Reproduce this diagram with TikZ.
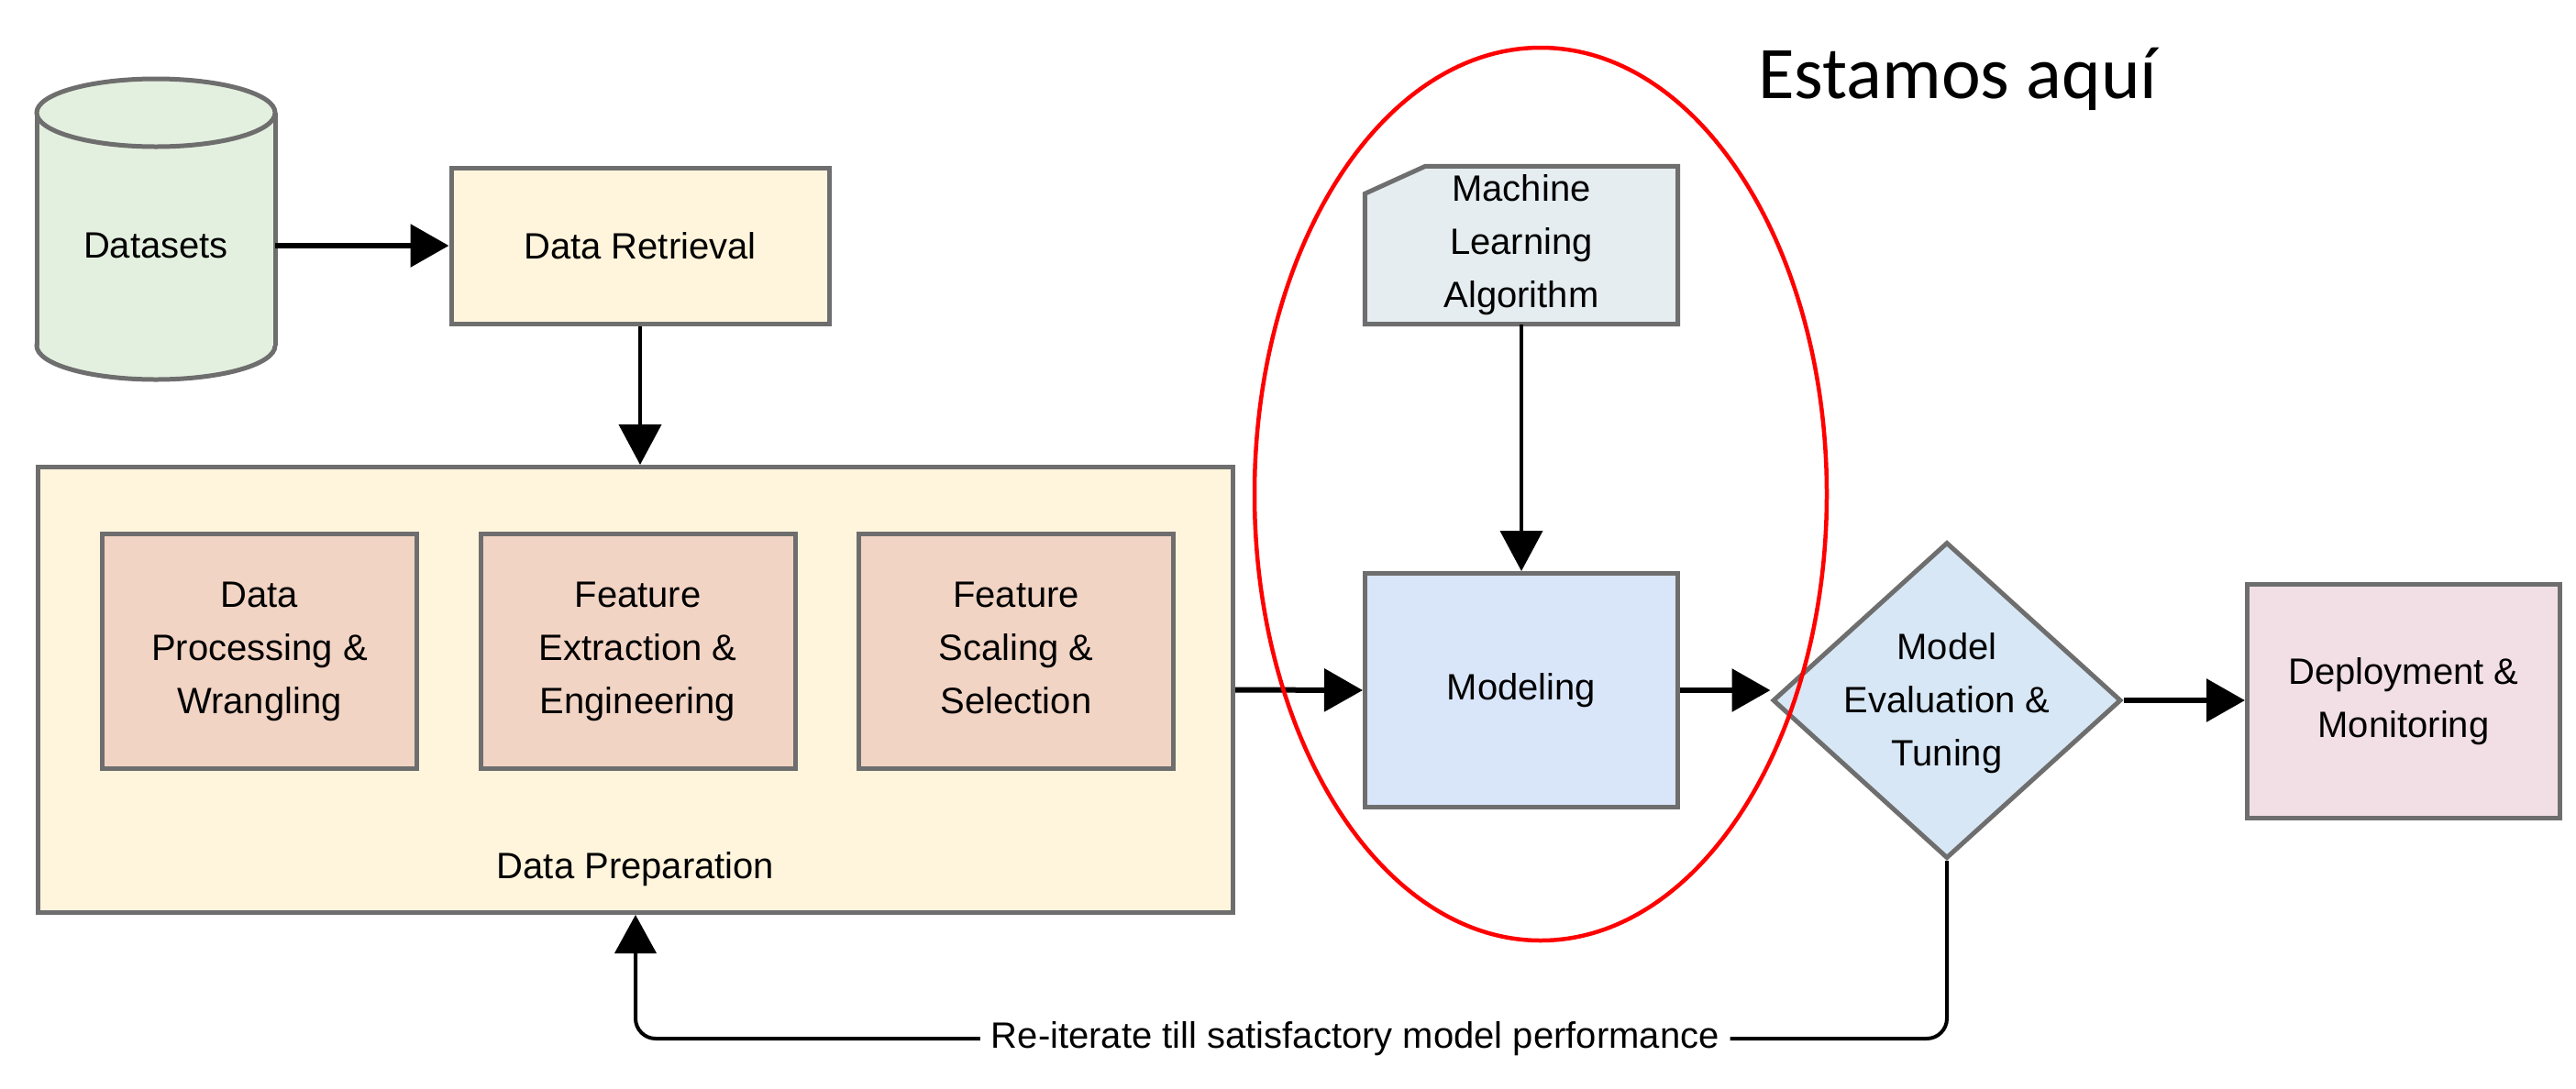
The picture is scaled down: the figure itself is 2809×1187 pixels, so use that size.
\documentclass[tikz,border=0pt]{standalone}
\usepackage{fontspec}
\setmainfont{Liberation Sans}
\newfontfamily\calibfont{Carlito}
\usetikzlibrary{arrows.meta,shapes.geometric,backgrounds}
\definecolor{bord}{HTML}{6E6E6E}
\definecolor{cylf}{HTML}{E4F0DF}
\definecolor{cream}{HTML}{FFF5DC}
\definecolor{peach}{HTML}{F2D4C4}
\definecolor{mlf}{HTML}{E5EDF0}
\definecolor{modf}{HTML}{D9E5F8}
\definecolor{diaf}{HTML}{D7E7F5}
\definecolor{depf}{HTML}{F2DFE6}
\begin{document}
\begin{tikzpicture}[x=1pt,y=-1pt,
  txt/.style={font=\fontsize{40}{58}\selectfont, align=center, text=black},
  box/.style={txt, draw=bord, line width=5pt, inner sep=0pt},
  bigarr/.style={line width=6pt, -{Triangle[length=42pt,width=46pt]}},
  thinarr/.style={line width=4pt, -{Triangle[length=44pt,width=46pt]}},
  fb/.style={line width=4pt, rounded corners=22pt, -{Triangle[length=42pt,width=45pt]}},
  cyl/.style={draw=bord, line width=5pt, fill=cylf}
]
\useasboundingbox (0,0) rectangle (2809,1187);
\begin{scope}[on background layer]
\fill[white] (0,0) rectangle (2809,1187);
\end{scope}

% cylinder (Datasets)
\filldraw[cyl] (170,377) ellipse [x radius=130, y radius=37];
\fill[cylf] (40,123) rectangle (300,377);
\draw[bord, line width=5pt] (40,123) -- (40,377) (300,123) -- (300,377);
\filldraw[cyl] (170,123) ellipse [x radius=130, y radius=37];
\node[txt, minimum width=260pt, inner sep=0pt] (ds) at (170,268) {Datasets};

% Data Retrieval
\node[box, fill=cream, minimum width=412pt, minimum height=170pt] (dr) at (698,268) {Data Retrieval};

% Data Preparation
\node[box, fill=cream, minimum width=1303pt, minimum height=486pt,
  label={[txt, anchor=center, yshift=50pt]south:Data Preparation}] (dp) at (693,752.5) {};
\node[box, fill=peach, minimum width=343pt, minimum height=256pt] (p1) at (283,710.5) {Data\\Processing \&\\Wrangling};
\node[box, fill=peach, minimum width=343pt, minimum height=256pt] (p2) at (695.5,710.5) {Feature\\Extraction \&\\Engineering};
\node[box, fill=peach, minimum width=343pt, minimum height=256pt] (p3) at (1108,710.5) {Feature\\Scaling \&\\Selection\vphantom{g}};

% Machine Learning Algorithm (cut corner box)
\node[txt, inner sep=0pt, minimum width=341pt, minimum height=172pt] (ml) at (1659,267.5) {Machine\\Learning\\Algorithm};
\begin{scope}[on background layer]
\filldraw[draw=bord, fill=mlf, line width=5pt, line join=miter]
  ([yshift=-30pt]ml.north west) -- ([xshift=66pt]ml.north west) -- (ml.north east)
  -- (ml.south east) -- (ml.south west) -- cycle;
\end{scope}

% Modeling
\node[box, fill=modf, minimum width=341pt, minimum height=255pt] (mod) at (1659,753) {Modeling};

% Model Evaluation & Tuning
\node[draw=bord, line width=5pt, fill=diaf, diamond, aspect=1.1, inner sep=0pt,
  minimum width=380pt, minimum height=345pt,
  label={[txt, anchor=center, yshift=-3pt]center:Model\\Evaluation \&\\Tuning}] (dia) at (2123,764) {};

% Deployment
\node[box, fill=depf, minimum width=341pt, minimum height=255pt] (dep) at (2621,765) {Deployment \&\\Monitoring};

% caption
\node[font=\calibfont\fontsize{81}{97}\selectfont, anchor=base west, inner sep=0pt] (here) at (1917,107) {Estamos aquí};

% connectors
\draw[bigarr] (ds.east) -- (dr.west);
\draw[thinarr] (dr.south) -- (dr.south |- dp.north);
\draw[bigarr] (dp.east) -- (mod.west);
\draw[thinarr] (ml.south) -- (mod.north);
\draw[bigarr] (mod.east) -- (mod.east -| dia.west);
\draw[bigarr] (dia.east) -- (dia.east -| dep.west);
\draw[fb] (dia.south) |- ([yshift=-135pt]dp.south)
  node[txt, pos=0.7256, fill=white, inner xsep=12pt, inner ysep=4pt] (lbl) {Re-iterate till satisfactory model performance}
  -- (dp.south);

% red ellipse
\draw[red, line width=4.5pt] (1680,539) ellipse [x radius=312, y radius=487];
\end{tikzpicture}
\end{document}
